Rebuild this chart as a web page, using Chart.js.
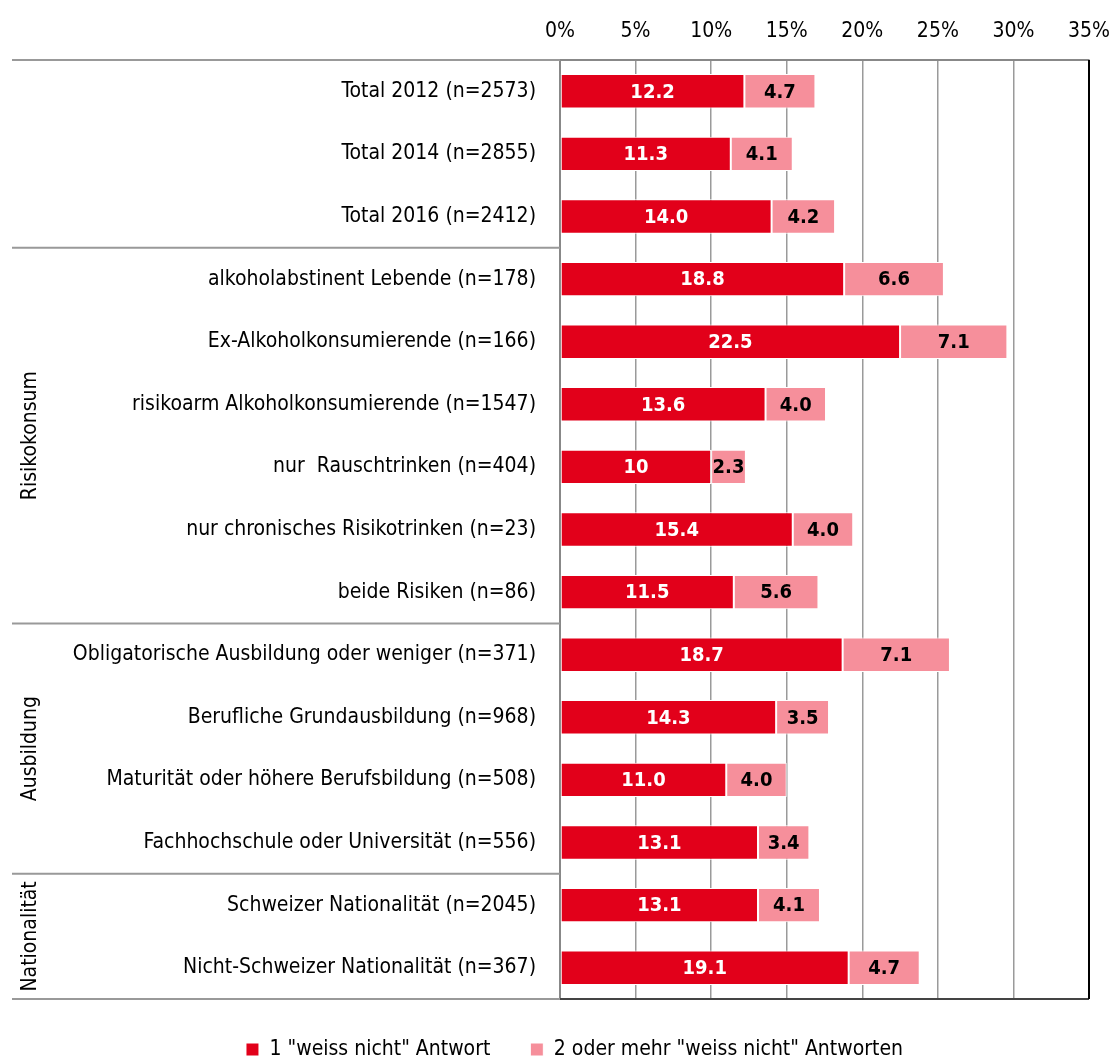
<!DOCTYPE html>
<html>
<head>
<meta charset="utf-8">
<script src="https://cdn.jsdelivr.net/npm/chart.js@4.4.1/dist/chart.umd.min.js"></script>
<style>
  html, body { margin: 0; padding: 0; background: #fff; }
  #wrap { width: 1112px; height: 1062px; }
</style>
</head>
<body>
<div id="wrap"><canvas id="chart"></canvas></div>
<script>
const FONT = "'Liberation Sans Narrow', 'Arial Narrow', 'DejaVu Sans Condensed', sans-serif";

const categories = [
  'Total 2012 (n=2573)',
  'Total 2014 (n=2855)',
  'Total 2016 (n=2412)',
  'alkoholabstinent Lebende (n=178)',
  'Ex-Alkoholkonsumierende (n=166)',
  'risikoarm Alkoholkonsumierende (n=1547)',
  'nur  Rauschtrinken (n=404)',
  'nur chronisches Risikotrinken (n=23)',
  'beide Risiken (n=86)',
  'Obligatorische Ausbildung oder weniger (n=371)',
  'Berufliche Grundausbildung (n=968)',
  'Maturität oder höhere Berufsbildung (n=508)',
  'Fachhochschule oder Universität (n=556)',
  'Schweizer Nationalität (n=2045)',
  'Nicht-Schweizer Nationalität (n=367)'
];

// values kept as shown in the chart (strings keep "14.0" vs "10")
const oneAnswer = ['12.2', '11.3', '14.0', '18.8', '22.5', '13.6', '10', '15.4', '11.5', '18.7', '14.3', '11.0', '13.1', '13.1', '19.1'];
const twoOrMore = ['4.7', '4.1', '4.2', '6.6', '7.1', '4.0', '2.3', '4.0', '5.6', '7.1', '3.5', '4.0', '3.4', '4.1', '4.7'];

const seriesNames = ['1 "weiss nicht" Antwort', '2 oder mehr "weiss nicht" Antworten'];
const xTicks = [0, 5, 10, 15, 20, 25, 30, 35];

// groups: [label, first index, last index] ; boundaries drawn at each group edge
const groups = [
  ['', 0, 2],
  ['Risikokonsum', 3, 8],
  ['Ausbildung', 9, 12],
  ['Nationalität', 13, 14]
];

const RED = '#E2001A';
const PINK = '#F68F9B';

// draws values inside each bar segment
const valueLabels = {
  id: 'valueLabels',
  afterDatasetsDraw(chart) {
    const ctx = chart.ctx;
    ctx.save();
    ctx.font = 'bold 20px ' + FONT;
    ctx.textAlign = 'center';
    ctx.textBaseline = 'middle';
    chart.data.datasets.forEach((ds, di) => {
      const meta = chart.getDatasetMeta(di);
      meta.data.forEach((bar, i) => {
        const cx = (bar.x + bar.base) / 2;
        ctx.fillStyle = di === 0 ? '#fff' : '#000';
        ctx.fillText(ds.data[i], cx, bar.y + 1);
      });
    });
    ctx.restore();
  }
};

// group separators, group titles and the plot frame
const groupFrame = {
  id: 'groupFrame',
  afterLayout(chart) {
    // legend sits a little right of the canvas centre
    chart.legend.left += 30;
    chart.legend.right += 30;
  },
  afterDraw(chart) {
    const ctx = chart.ctx;
    const area = chart.chartArea;
    const y = chart.scales.y;
    const half = (y.getPixelForValue(1) - y.getPixelForValue(0)) / 2;
    ctx.save();
    ctx.strokeStyle = '#999';
    ctx.lineWidth = 2;
    const edges = [area.top];
    groups.forEach(g => edges.push(y.getPixelForValue(g[2]) + half));
    edges.forEach(ey => {
      ctx.beginPath();
      ctx.moveTo(12, ey);
      ctx.lineTo(area.left, ey);
      ctx.stroke();
    });
    // bottom and right frame
    ctx.strokeStyle = '#444';
    ctx.beginPath();
    ctx.moveTo(area.left, area.bottom);
    ctx.lineTo(area.right, area.bottom);
    ctx.stroke();
    ctx.strokeStyle = '#000';
    ctx.beginPath();
    ctx.moveTo(area.right, area.top);
    ctx.lineTo(area.right, area.bottom);
    ctx.stroke();

    ctx.fillStyle = '#000';
    ctx.font = '21px ' + FONT;
    ctx.textAlign = 'center';
    ctx.textBaseline = 'middle';
    groups.forEach(g => {
      if (!g[0]) return;
      const top = y.getPixelForValue(g[1]) - half;
      const bot = y.getPixelForValue(g[2]) + half;
      ctx.save();
      ctx.translate(31, (top + bot) / 2);
      ctx.rotate(-Math.PI / 2);
      ctx.fillText(g[0], 0, 0);
      ctx.restore();
    });
    ctx.restore();
  }
};

new Chart(document.getElementById('chart'), {
  type: 'bar',
  data: {
    labels: categories,
    datasets: [
      {
        label: seriesNames[0],
        data: oneAnswer,
        backgroundColor: RED,
        borderColor: '#fff',
        borderWidth: 1,
        borderSkipped: false
      },
      {
        label: seriesNames[1],
        data: twoOrMore,
        backgroundColor: PINK,
        borderColor: '#fff',
        borderWidth: 1,
        borderSkipped: false
      }
    ]
  },
  options: {
    indexAxis: 'y',
    responsive: true,
    maintainAspectRatio: false,
    animation: false,
    layout: { padding: { left: 0, right: 23, top: 0, bottom: -8 } },
    datasets: {
      bar: { barPercentage: 0.55, categoryPercentage: 1 }
    },
    scales: {
      x: {
        position: 'top',
        stacked: true,
        min: 0,
        max: 35,
        afterBuildTicks: (scale) => {
          scale.ticks = xTicks.map(v => ({ value: v }));
        },
        afterFit: (scale) => {
          scale.height = 60;
          scale.paddingLeft = 0;
          scale.paddingRight = 0;
        },
        grid: {
          color: (c) => c.tick && c.tick.value === 35 ? '#000' : '#9a9a9a',
          lineWidth: 1.5,
          drawTicks: false
        },
        border: { color: '#888', width: 2 },
        ticks: {
          padding: 16,
          color: '#000',
          font: { family: FONT, size: 21 },
          callback: (v) => v + '%'
        }
      },
      y: {
        stacked: true,
        afterFit: (scale) => { scale.width = 560; },
        grid: { display: false, drawTicks: false },
        border: { color: '#888', width: 2 },
        ticks: {
          padding: 24,
          color: '#000',
          font: { family: FONT, size: 21 }
        }
      }
    },
    plugins: {
      legend: {
        position: 'bottom',
        labels: {
          color: '#000',
          font: { family: FONT, size: 21 },
          boxWidth: 13,
          boxHeight: 13,
          padding: 40
        }
      },
      tooltip: { enabled: false }
    }
  },
  plugins: [valueLabels, groupFrame]
});
</script>
</body>
</html>
